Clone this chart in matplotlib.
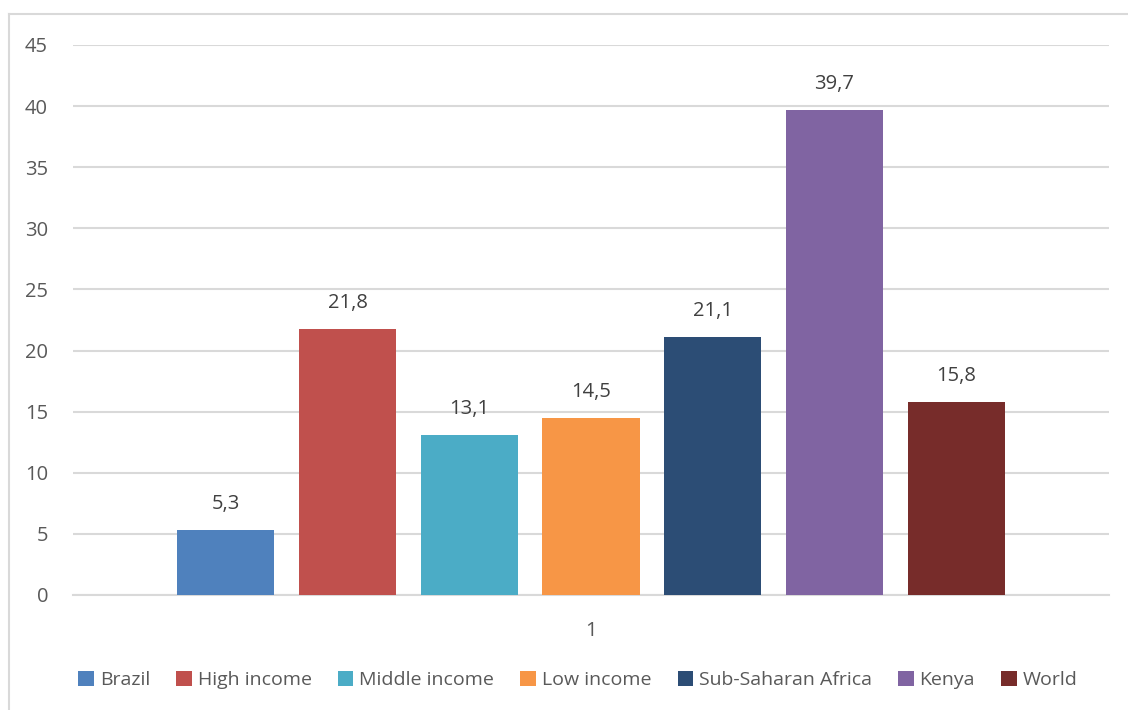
import matplotlib
matplotlib.use("Agg")
import matplotlib.pyplot as plt
from matplotlib.lines import Line2D
import numpy as np

# share of population, one category with seven series
series = ["Brazil", "High income", "Middle income", "Low income",
          "Sub-Saharan Africa", "Kenya", "World"]
values = [5.3, 21.8, 13.1, 14.5, 21.1, 39.7, 15.8]
colors = ["#4F81BD", "#C0504D", "#4BACC6", "#F79646",
          "#2C4D75", "#8064A2", "#772C2A"]
category = "1"
yticks = [0, 5, 10, 15, 20, 25, 30, 35, 40, 45]

plt.rcParams["font.family"] = ["Open Sans", "DejaVu Sans"]
text_color = "#595959"
grid_color = "#D9D9D9"
fs = 14.5

fig = plt.figure(figsize=(11.28, 7.10), dpi=100)
ax = fig.add_axes([73 / 1128, 1 - 595 / 710, 1036 / 1128, 550 / 710])

x = np.arange(len(values)) - (len(values) - 1) / 2
for xi, v, c, name in zip(x, values, colors, series):
    ax.bar(xi, v, width=0.797, color=c, label=name, zorder=3)
    ax.text(xi, v + 1.3, f"{v:.1f}".replace(".", ","), ha="center", va="bottom",
            fontsize=fs, color="#404040")

ax.set_xlim(-4.256, 4.256)
ax.set_ylim(0, 45)
ax.set_yticks(yticks)
ax.set_yticklabels([str(t) for t in yticks], fontsize=fs, color=text_color)
ax.tick_params(axis="y", length=0, pad=18)
ax.set_xticks([0])
ax.set_xticklabels([category], fontsize=fs, color=text_color)
ax.tick_params(axis="x", length=0, pad=19)
ax.grid(axis="y", color=grid_color, linewidth=1.5, zorder=0)
for s in ["top", "right", "left"]:
    ax.spines[s].set_visible(False)
ax.spines["bottom"].set_color(grid_color)
ax.spines["bottom"].set_linewidth(1.5)

leg = fig.legend(loc="center", bbox_to_anchor=(578 / 1128, 1 - 680 / 710), ncol=7,
                 frameon=False, fontsize=14, handlelength=0.8, handleheight=0.8,
                 handletextpad=0.3, columnspacing=1.35)
for t in leg.get_texts():
    t.set_color(text_color)

# outer chart border
fig.add_artist(Line2D([9 / 1128, 9 / 1128], [0, 1 - 14 / 710], color=grid_color,
                      linewidth=1.5, transform=fig.transFigure))
fig.add_artist(Line2D([9 / 1128, 1], [1 - 14 / 710, 1 - 14 / 710], color=grid_color,
                      linewidth=1.5, transform=fig.transFigure))

fig.savefig("out.png", dpi=100)
